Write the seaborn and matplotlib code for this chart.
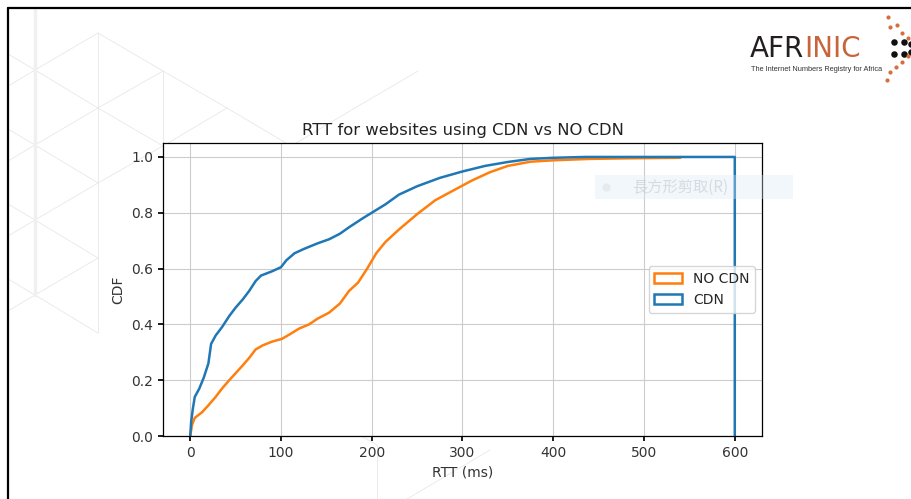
import matplotlib
matplotlib.use("Agg")
import matplotlib.pyplot as plt
from matplotlib.patches import Patch, Rectangle
import seaborn as sns
import pandas as pd

# CDF curves (RTT in ms, cumulative fraction)
cdn_rtt = [0, 1, 3, 5, 10, 15, 20, 23, 28, 35, 43, 50, 58, 65, 72, 78, 90, 100,
           106, 115, 125, 140, 153, 165, 175, 190, 200, 215, 230, 250, 275, 300,
           325, 350, 375, 400, 435, 600, 600]
cdn_cdf = [0.0, 0.05, 0.10, 0.14, 0.17, 0.21, 0.26, 0.33, 0.36, 0.39, 0.43, 0.46,
           0.49, 0.52, 0.555, 0.575, 0.59, 0.605, 0.63, 0.655, 0.67, 0.69, 0.705,
           0.725, 0.748, 0.78, 0.80, 0.83, 0.865, 0.895, 0.925, 0.948, 0.968,
           0.982, 0.993, 0.997, 1.0, 1.0, 0.0]

nocdn_rtt = [0, 2, 5, 13, 20, 28, 35, 43, 50, 57, 65, 72, 80, 90, 101, 110, 120,
             131, 140, 153, 165, 175, 185, 195, 205, 215, 230, 250, 270, 290, 310,
             330, 350, 375, 400, 440, 480, 540]
nocdn_cdf = [0.0, 0.04, 0.065, 0.085, 0.11, 0.14, 0.17, 0.20, 0.225, 0.25, 0.28,
             0.31, 0.325, 0.338, 0.348, 0.365, 0.385, 0.40, 0.42, 0.442, 0.475,
             0.52, 0.55, 0.60, 0.655, 0.695, 0.74, 0.795, 0.845, 0.88, 0.915,
             0.945, 0.968, 0.983, 0.988, 0.993, 0.995, 0.997]

series_names = ["NO CDN", "CDN"]
series_colors = ["#ff7f0e", "#1f77b4"]
x_ticks = [0, 100, 200, 300, 400, 500, 600]
y_ticks = [0.0, 0.2, 0.4, 0.6, 0.8, 1.0]

sns.set_theme(style="ticks", rc={
    "axes.edgecolor": "black",
    "axes.linewidth": 0.9,
    "grid.color": "#cccccc",
    "grid.linewidth": 0.8,
    "xtick.color": "black",
    "ytick.color": "black",
    "xtick.labelcolor": "#333333",
    "ytick.labelcolor": "#333333",
    "xtick.major.size": 3.5,
    "ytick.major.size": 3.5,
    "font.size": 10,
    "axes.labelsize": 10,
    "axes.titlesize": 11.8,
    "xtick.labelsize": 10,
    "ytick.labelsize": 10,
    "legend.fontsize": 10,
})
plt.rcParams["font.family"] = ["DejaVu Sans", "Noto Sans CJK TC"]

W, H = 911, 499
fig = plt.figure(figsize=(W / 100, H / 100), dpi=100)
fig.patch.set_facecolor("white")

# faint slide background pattern
bg = fig.add_axes([0, 0, 1, 1], zorder=0)
bg.set_xlim(0, W)
bg.set_ylim(H, 0)
bg.axis("off")
col_x = [35, 98, 163, 227, 291, 355, 418]
nodes = {0: [70, 145, 220, 295], 1: [33, 108, 183, 258, 333], 2: [71, 146],
         3: [108], 4: [146], 5: [108], 6: [71]}
pat = "#e8e8e8"
for c, ys in nodes.items():
    for y in ys:
        for y2 in ys:
            if 70 < y2 - y < 80:
                bg.plot([col_x[c], col_x[c]], [y, y2], color=pat, lw=0.6)
        for y2 in nodes.get(c + 1, []):
            if abs(abs(y2 - y) - 37.5) < 3:
                bg.plot([col_x[c], col_x[c + 1]], [y, y2], color=pat, lw=0.6)
    if c == 0:
        for y in ys:
            bg.plot([8, 35], [y - 16, y], color=pat, lw=0.6)
            bg.plot([8, 35], [y + 16, y], color=pat, lw=0.6)
bg.plot([35, 35], [10, 295], color="#f0f0f0", lw=2.5)
bg.plot([377, 377], [445, 499], color=pat, lw=0.6)
bg.plot([407, 490], [499, 450], color=pat, lw=0.6)
bg.plot([363, 377], [437, 445], color=pat, lw=0.6)

# main chart
ax = fig.add_axes([163 / W, 63 / H, 599 / W, 293 / H], zorder=1)
df = pd.concat([
    pd.DataFrame({"rtt": nocdn_rtt, "cdf": nocdn_cdf, "group": "NO CDN"}),
    pd.DataFrame({"rtt": cdn_rtt, "cdf": cdn_cdf, "group": "CDN"}),
])
sns.lineplot(data=df, x="rtt", y="cdf", hue="group", hue_order=series_names,
             palette=dict(zip(series_names, series_colors)), estimator=None,
             sort=False, lw=1.8, legend=False, ax=ax)

ax.set_xlim(-30, 630)
ax.set_ylim(0, 1.05)
ax.set_xticks(x_ticks)
ax.set_yticks(y_ticks)
ax.set_yticklabels([f"{v:.1f}" for v in y_ticks])
ax.grid(True)
ax.set_axisbelow(True)
ax.set_xlabel("RTT (ms)", color="#333333")
ax.set_ylabel("CDF", color="#333333")
ax.set_title("RTT for websites using CDN vs NO CDN", color="#222222")

handles = [Patch(facecolor="none", edgecolor=c, linewidth=1.8) for c in series_colors]
ax.legend(handles, series_names, loc="center right", framealpha=0.8,
          edgecolor="#cccccc", fancybox=True)

# foreground: slide border, logo, screenshot ghost
fg = fig.add_axes([0, 0, 1, 1], zorder=3)
fg.set_xlim(0, W)
fg.set_ylim(H, 0)
fg.axis("off")
fg.patch.set_alpha(0)
fg.plot([8, 8], [8, H], color="black", lw=1.6, clip_on=False)
fg.plot([8, W], [8, 8], color="black", lw=1.6, clip_on=False)

fg.add_patch(Rectangle((595, 175), 198, 24, facecolor="#dce9f8", alpha=0.35,
                       edgecolor="none"))
fg.scatter([606], [187], s=35, color="#e3e7ed", alpha=0.8, linewidths=0)
fg.text(632, 187, "長方形剪取(R)", family=["Noto Sans CJK TC", "DejaVu Sans"],
        fontsize=11, color="#c4c9d2", alpha=0.6, va="center")

t1 = fg.text(750, 57, "AFR", fontsize=20, color="#231f20", va="baseline")
fg.annotate("INIC", xy=(1, 0), xycoords=t1, va="bottom", ha="left",
            fontsize=20, color="#c8643b")
fg.text(751, 70.5, "The Internet Numbers Registry for Africa", fontsize=5.3,
        family="Liberation Sans", color="#333333", va="baseline")
fg.scatter([894, 904, 894, 904, 911, 911], [42, 42, 54, 54, 44, 52], s=22,
           color="#111111", linewidths=0, clip_on=False)
fg.scatter([888, 890, 897, 902, 908, 890, 887, 896, 902, 908],
           [17, 27, 25, 33, 38, 72, 80, 67, 62, 56], s=9, color="#d4703f",
           linewidths=0, clip_on=False)

fig.savefig("out.png", dpi=100)
